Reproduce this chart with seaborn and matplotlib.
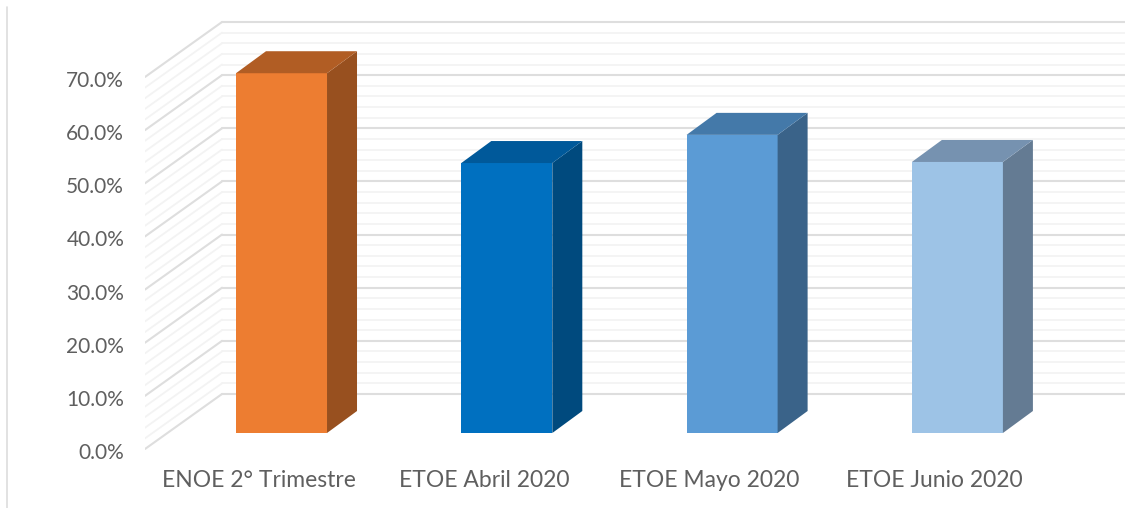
import seaborn as sns
import matplotlib.pyplot as plt
from matplotlib.lines import Line2D
from matplotlib.patches import Polygon
from matplotlib.transforms import ScaledTranslation

categorias = ["ENOE 2° Trimestre", "ETOE Abril 2020", "ETOE Mayo 2020", "ETOE Junio 2020"]
valores = [67.7, 50.8, 56.1, 51.0]
colores = ["#ED7D31", "#0070C0", "#5B9BD5", "#9DC3E6"]
colores_lado = ["#98501F", "#004A7E", "#3A6389", "#647B93"]
colores_tapa = ["#B15D24", "#00599A", "#4479A9", "#7692B0"]
marcas_y = [0, 10, 20, 30, 40, 50, 60, 70]
etiquetas_y = ["0.0%", "10.0%", "20.0%", "30.0%", "40.0%", "50.0%", "60.0%", "70.0%"]
marcas_menores = [v for v in range(0, 70, 2) if v % 10 != 0]

sns.set_theme(style="white")
plt.rcParams['font.family'] = ['Lato', 'DejaVu Sans']

W, H = 1147, 508
fig = plt.figure(figsize=(W / 100, H / 100), dpi=100)
izq, der, arriba, abajo = 145, 1125, 10, 460
ax = fig.add_axes([izq / W, 1 - abajo / H, (der - izq) / W, (abajo - arriba) / H])

sns.barplot(x=categorias, y=valores, hue=categorias, palette=colores, legend=False,
            width=0.404, saturation=1, linewidth=0, ax=ax, zorder=3)

# escala: pixeles por categoria y por punto porcentual
px_x = 225.3
px_y = 372 / 70
ax.set_xlim((izq - 281.5) / px_x, (der - 281.5) / px_x)
ax.set_ylim(-(abajo - 433) / px_y, (433 - arriba) / px_y)

# piso y pared del fondo (efecto 3D)
x_frente = ax.get_xlim()[0]
x_fondo = x_frente + 77 / px_x
baja_frente = 16 / px_y
sube_fondo = 39 / px_y

for v in marcas_menores:
    ax.plot([x_frente, x_fondo], [v - baja_frente, v + sube_fondo], color="#f3f3f3", lw=1.3, zorder=1)
    ax.plot([x_fondo, ax.get_xlim()[1]], [v + sube_fondo, v + sube_fondo], color="#f3f3f3", lw=1.3, zorder=1)
for v in marcas_y:
    ax.plot([x_frente, x_fondo], [v - baja_frente, v + sube_fondo], color="#dedede", lw=1.5, zorder=2)
    ax.plot([x_fondo, ax.get_xlim()[1]], [v + sube_fondo, v + sube_fondo], color="#dedede", lw=1.5, zorder=2)

# lado y tapa de cada barra
fondo_x = 30 / px_x
fondo_y = 22 / px_y
for barra, lado, tapa in zip(ax.patches, colores_lado, colores_tapa):
    x0 = barra.get_x()
    x1 = x0 + barra.get_width()
    y1 = barra.get_height()
    ax.add_patch(Polygon([(x1, 0), (x1 + fondo_x, fondo_y), (x1 + fondo_x, y1 + fondo_y), (x1, y1)],
                         closed=True, color=lado, lw=0, zorder=3))
    ax.add_patch(Polygon([(x0, y1), (x0 + fondo_x, y1 + fondo_y), (x1 + fondo_x, y1 + fondo_y), (x1, y1)],
                         closed=True, color=tapa, lw=0, zorder=3))

sns.despine(ax=ax, left=True, bottom=True)
ax.set_xlabel("")
ax.set_ylabel("")
ax.set_yticks(marcas_y)
ax.set_yticklabels(etiquetas_y)
ax.set_xticks(range(len(categorias)))
ax.set_xticklabels(categorias)
ax.tick_params(axis="y", length=0, pad=15, labelsize=15, labelcolor="#5f5f5f")
ax.tick_params(axis="x", length=0, pad=7, labelsize=16.5, labelcolor="#5f5f5f")

# las etiquetas van en el plano frontal, corridas respecto a las barras
for t in ax.get_yticklabels():
    t.set_transform(t.get_transform() + ScaledTranslation(0, -18 / 100, fig.dpi_scale_trans))
for t in ax.get_xticklabels():
    t.set_transform(t.get_transform() + ScaledTranslation(-23 / 100, 0, fig.dpi_scale_trans))

# borde izquierdo de la imagen
fig.add_artist(Line2D([7 / W, 7 / W], [0, 1 - 7 / H], color="#dddddd", lw=1.2))

fig.savefig("out.png", dpi=100)
